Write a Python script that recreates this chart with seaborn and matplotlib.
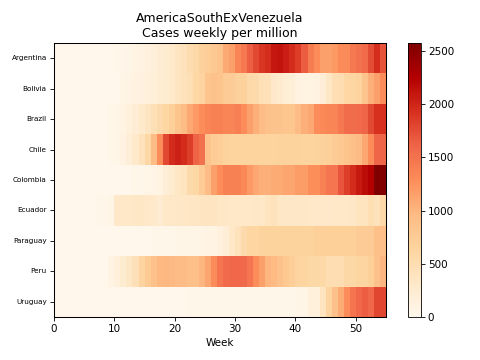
import numpy as np
import pandas as pd
import matplotlib
matplotlib.use("Agg")
import matplotlib.pyplot as plt
import seaborn as sns

countries = ["Argentina", "Bolivia", "Brazil", "Chile", "Colombia",
             "Ecuador", "Paraguay", "Peru", "Uruguay"]

argentina = [0, 0, 0, 0, 0, 0, 0, 0, 10, 20, 30, 40, 60, 80, 110, 140, 170, 220, 260, 300,
             380, 420, 520, 560, 680, 720, 800, 870, 1090, 1150, 1350, 1450, 1640, 1780, 1900,
             1950, 2100, 2120, 2050, 1960, 1860, 1660, 1420, 1290, 1150, 1150, 1200, 1300, 1300,
             1450, 1500, 1560, 1760, 1950, 1720]
bolivia = [0, 0, 0, 0, 0, 0, 0, 0, 0, 5, 20, 60, 90, 110, 130, 150, 180, 230, 260, 300,
           380, 420, 460, 600, 640, 850, 880, 850, 760, 750, 690, 680, 560, 550, 460,
           440, 320, 290, 210, 190, 110, 100, 100, 110, 200, 350, 480, 500, 600,
           620, 650, 850, 1050, 1150, 1290]
brazil = [0, 0, 0, 0, 0, 0, 0, 0, 5, 30, 60, 100, 150, 220, 300, 380, 460, 550, 620, 700,
          850, 950, 1100, 1200, 1290, 1350, 1380, 1380, 1350, 1350, 1400, 1290, 1150, 1050, 950,
          880, 870, 860, 830, 830, 950, 1050, 1100, 1290, 1320, 1350, 1360, 1450, 1550,
          1550, 1560, 1600, 1780, 1930, 1930]
chile = [0, 0, 0, 0, 0, 0, 0, 0, 5, 30, 60, 120, 200, 300, 420, 600, 950, 1290, 1780, 1960,
         2030, 1960, 1850, 1610, 1500, 850, 750, 720, 660, 650, 650, 650, 650, 650, 650,
         650, 650, 660, 660, 660, 660, 650, 650, 660, 680, 700, 750, 800, 850,
         900, 950, 1100, 1300, 1600, 1600]
colombia = [0, 0, 0, 0, 0, 0, 0, 0, 0, 5, 10, 15, 20, 30, 40, 50, 70, 100, 200, 250,
            350, 400, 550, 600, 750, 950, 1150, 1290, 1380, 1380, 1380, 1320, 1200, 1100, 1050,
            1050, 1080, 1080, 1120, 1120, 1180, 1180, 1280, 1280, 1380, 1480, 1480, 1700, 1850,
            1960, 2080, 2170, 2253, 2575, 2560]
ecuador = [0, 0, 0, 0, 0, 0, 10, 30, 40, 50, 320, 330, 330, 340, 350, 320, 310, 240, 330, 340,
           340, 350, 360, 370, 380, 390, 380, 350, 340, 330, 330, 330, 330, 340, 330,
           400, 420, 350, 340, 340, 340, 340, 330, 320, 320, 320, 330, 330, 330,
           340, 400, 400, 480, 420, 560]
paraguay = [0, 0, 0, 0, 0, 0, 0, 0, 0, 0, 10, 10, 15, 15, 20, 20, 25, 25, 30, 30,
            50, 50, 60, 60, 70, 80, 100, 140, 200, 330, 420, 550, 620, 620, 660,
            660, 660, 660, 660, 660, 660, 660, 660, 700, 700, 700, 700, 700, 700,
            700, 750, 750, 760, 900, 900]
peru = [0, 0, 0, 0, 0, 0, 0, 0, 10, 80, 150, 250, 350, 450, 640, 780, 880, 980, 990, 980,
        950, 950, 900, 900, 1000, 1120, 1300, 1480, 1560, 1580, 1580, 1570, 1480, 1290, 1150,
        1000, 966, 880, 800, 720, 640, 630, 580, 580, 570, 500, 500, 500, 580,
        580, 630, 630, 700, 880, 1000]
uruguay = [0, 0, 0, 0, 0, 0, 0, 0, 0, 0, 5, 5, 10, 10, 10, 10, 15, 15, 20, 20,
           20, 20, 25, 25, 25, 25, 30, 30, 30, 30, 30, 30, 30, 30, 30,
           30, 30, 30, 30, 30, 60, 60, 150, 150, 400, 640, 880, 1080, 1290,
           1480, 1580, 1650, 1590, 1800, 1800]

week_ticks = [0, 10, 20, 30, 40, 50]

series = [argentina, bolivia, brazil, chile, colombia, ecuador, paraguay, peru, uruguay]
df = pd.DataFrame(series, index=countries, columns=list(range(len(argentina))))

fig = plt.figure(figsize=(6.4, 4.8), dpi=75)
ax = fig.add_axes([54 / 480, 43 / 360, 332 / 480, 274 / 360])
cax = fig.add_axes([407.5 / 480, 43 / 360, 13 / 480, 274 / 360])

sns.heatmap(df, cmap="OrRd", vmin=0, ax=ax, cbar_ax=cax)

ax.set_xticks(week_ticks)
ax.set_xticklabels([str(w) for w in week_ticks], rotation=0, fontsize=10)
ax.set_yticks(np.arange(len(countries)) + 0.5)
ax.set_yticklabels(countries, rotation=0, fontsize=7)
ax.set_xlabel("Week", fontsize=10)
ax.set_ylabel("")
ax.set_title("AmericaSouthExVenezuela\nCases weekly per million", fontsize=12)
for s in ax.spines.values():
    s.set_visible(True)
    s.set_linewidth(1.0)
    s.set_color("black")

cb = ax.collections[0].colorbar
cb.outline.set_visible(True)
cb.outline.set_linewidth(0.8)
cb.outline.set_edgecolor("black")
cb.set_ticks([0, 500, 1000, 1500, 2000, 2500])
cb.ax.tick_params(labelsize=10)

fig.savefig("out.png", dpi=75)
